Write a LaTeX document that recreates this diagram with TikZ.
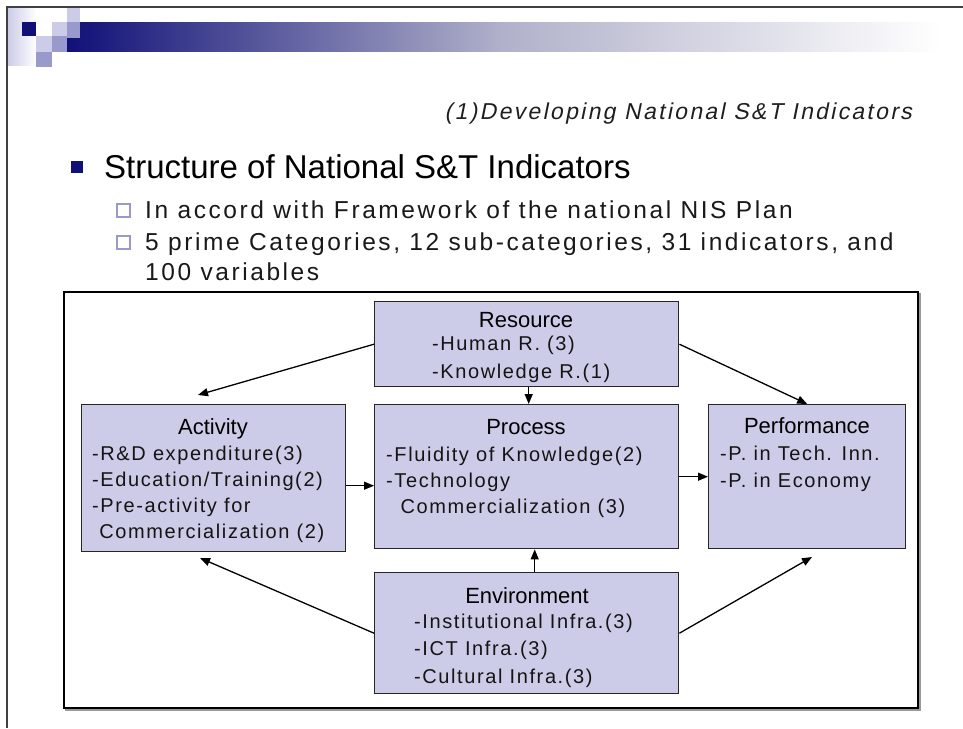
\documentclass[tikz,border=0pt]{standalone}
\usepackage{fontspec}
\setmainfont{Liberation Sans}
\newfontfamily\gul[LetterSpace=8]{Liberation Sans}
\newfontfamily\gulsub[LetterSpace=10.5]{Liberation Sans}
\newfontfamily\gulit[LetterSpace=10,FakeSlant=0.2]{Liberation Sans}
\usetikzlibrary{arrows.meta,calc}
\definecolor{boxfill}{RGB}{204,204,232}
\definecolor{slidenavy}{RGB}{16,16,120}
\definecolor{barmid}{RGB}{176,176,202}
\definecolor{lilac}{RGB}{204,204,234}
\definecolor{midlilac}{RGB}{153,153,204}

\begin{document}
\begin{tikzpicture}[x=1pt,y=-1pt,
    box/.style={draw=black!85,line width=1.4pt,fill=boxfill,anchor=north west,inner sep=0pt},
    head/.style={font=\fontsize{22}{22}\selectfont,anchor=base,inner sep=0pt},
    items/.style={font=\fontsize{20}{26}\gul,text=black!92,anchor=base west,inner sep=0pt},
    subline/.style={font=\fontsize{24.5}{24.5}\gulsub,text=black!90,anchor=base west,inner sep=0pt},
    link/.style={line width=1.3pt,-{Triangle[length=10pt,width=8pt]}}]
    \useasboundingbox (0,0) rectangle (963,728);
    \fill[white] (0,0) rectangle (963,728);
    % slide decoration
    \shade[left color=slidenavy,right color=barmid] (67,22) rectangle (500,51);
    \shade[left color=barmid,right color=white] (500,22) rectangle (940,51);
    \shade[left color=lilac,right color=white] (8,8) rectangle (36,65);
    \fill[slidenavy] (22,22) rectangle (36,36);
    \fill[lilac] (67,8) rectangle (80,22);
    \fill[lilac] (52,22) rectangle (67,36);
    \fill[midlilac] (67,22) rectangle (80,38);
    \fill[lilac] (36,36) rectangle (52,52);
    \fill[midlilac] (52,36) rectangle (67,52);
    \fill[midlilac] (36,52) rectangle (52,67);
    \draw[line width=2pt,black!75] (963,7) -- (7,7) -- (7,728);
    % headings
    \node[anchor=base east,inner sep=0pt,font=\fontsize{23}{23}\gulit,text=black!88] (sec) at (912,119) {(1)Developing National S\&T Indicators};
    \fill[slidenavy] (71,161) rectangle (83,173);
    \node[anchor=base west,inner sep=0pt,font=\fontsize{33}{33}\selectfont] (ttl) at (104,178) {Structure of National S\&T Indicators};
    \draw[midlilac,line width=1.2pt,fill=white] (117,204) rectangle (130,217);
    \draw[midlilac,line width=1.2pt,fill=white] (117,236) rectangle (130,249);
    \node[subline] (sub1) at (145,218) {In accord with Framework of the national NIS Plan};
    \node[subline] (sub2) at (145,250) {5 prime Categories, 12 sub-categories, 31 indicators, and};
    \node[subline] (sub3) at (145,280) {100 variables};
    % frame
    \draw[black!40,line width=1.4pt] (66,294) rectangle (920,710);
    \draw[black,line width=1.4pt,fill=white] (64,292) rectangle (918,708);
    % boxes
    \node[box,minimum width=304pt,minimum height=85pt] (res) at (374,301) {};
    \node[box,minimum width=264pt,minimum height=147pt] (act) at (81,404) {};
    \node[box,minimum width=304pt,minimum height=144pt] (proc) at (374,404) {};
    \node[box,minimum width=197pt,minimum height=144pt] (perf) at (708,404) {};
    \node[box,minimum width=304pt,minimum height=121pt] (env) at (374,572) {};
    % box texts
    \node[head] (resT) at (526,327) {Resource};
    \foreach \t [count=\i from 0] in {-Human R. (3), -Knowledge R.(1)}
        \node[items] (res-\i) at (432,350+28*\i) {\t};
    \node[head] (actT) at (213,434) {Activity};
    \foreach \t [count=\i from 0] in {-R\&D expenditure(3), -Education/Training(2), -Pre-activity for, \ Commercialization (2)}
        \node[items] (act-\i) at (92,460+26*\i) {\t};
    \node[head] (procT) at (526,434) {Process};
    \foreach \t [count=\i from 0] in {-Fluidity of Knowledge(2), -Technology, \ \ Commercialization (3)}
        \node[items] (proc-\i) at (386,461+26*\i) {\t};
    \node[head] (perfT) at (807,433) {Performance};
    \foreach \t [count=\i from 0] in {-P. in Tech. Inn., -P. in Economy}
        \node[items] (perf-\i) at (720,460+27*\i) {\t};
    \node[head] (envT) at (527,603) {Environment};
    \foreach \t [count=\i from 0] in {-Institutional Infra.(3), -ICT Infra.(3), -Cultural Infra.(3)}
        \node[items] (env-\i) at (414,628+27.5*\i) {\t};
    % connectors
    \coordinate (actTop) at (198,395);
    \coordinate (actBot) at (200,558);
    \coordinate (perfBot) at (812,557);
    \draw[link] (res.west) -- (actTop);
    \draw[link] (res.east) -- (perf.north);
    \draw[link] ($(res.south)+(2,0)$) -- ($(proc.north)+(2,0)$);
    \draw[link] ($(act.east)+(0,7.5)$) -- ($(proc.west)+(0,9)$);
    \draw[link] (proc.east) -- (perf.west);
    \draw[link] ($(env.north)+(8,0)$) -- ($(proc.south)+(8,0)$);
    \draw[link] (env.west) -- (actBot);
    \draw[link] (env.east) -- (perfBot);
\end{tikzpicture}
\end{document}
